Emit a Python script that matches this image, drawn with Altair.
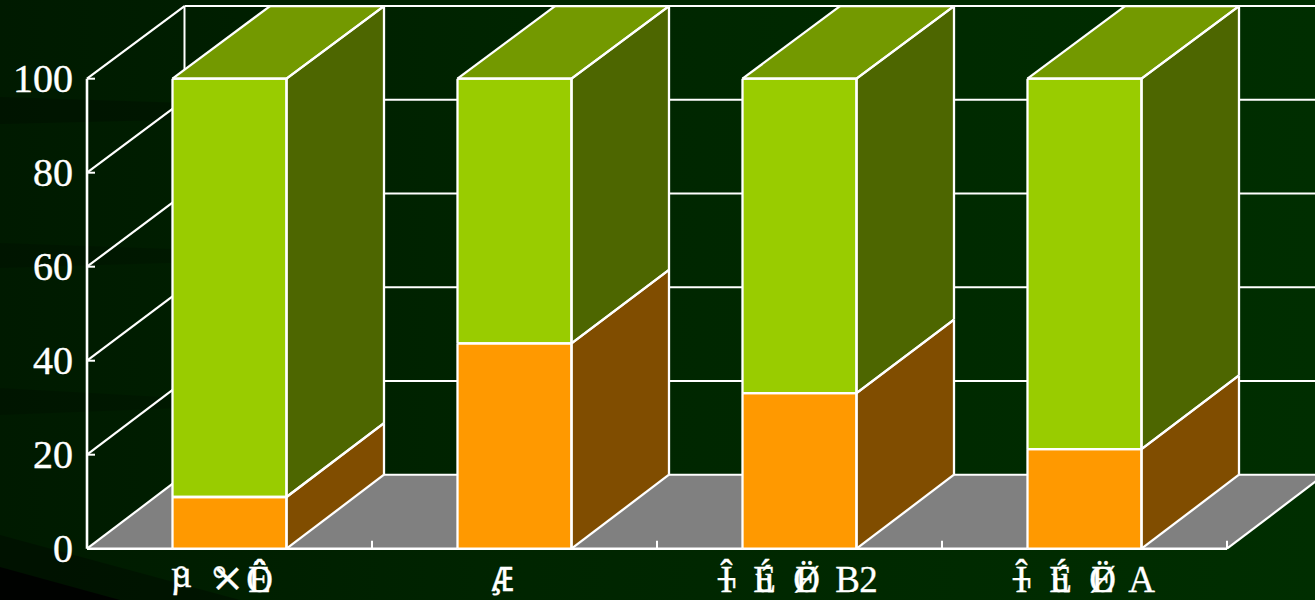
import altair as alt
import pandas as pd

# Share of each nutrient category (stacked to 100)
categories = ["µ° °× ÖÊ", "¸Æ", "Î¬ÉúËØ B2", "Î¬ÉúËØ A"]
lower_share = [11, 43.7, 33.1, 21.2]
upper_share = [89, 56.3, 66.9, 78.8]
y_ticks = [0, 20, 40, 60, 80, 100]

# Label glyphs: two byte-characters share one cell, so they overprint
label_glyphs = [
    ["°", "°", "Ö", "Ê"],
    [],
    ["Î", "¬", "É", "ú", "Ë", "Ø", "B", "2"],
    ["Î", "¬", "É", "ú", "Ë", "Ø", "A"],
]
label_offsets = [
    [-48, -10, 30, 30],
    [],
    [-73, -73, -35, -35, 7, 7, 48, 69],
    [-63, -63, -24, -24, 18, 18, 57],
]
# Glyphs with a descender sit a little higher in the row
raised_glyphs = [("µ", 0, -48), ("¸", 1, -18)]
ash_glyph = [("Æ", 1, -12)]
cross_glyph = [("×", 0, -2)]

# Layout constants
W, H = 1315, 600
CELL = 285.0
X0, Y0 = 87.0, 548.7
PER_VALUE = 4.7
BACK_DX = 97.5 / CELL
BACK_DV = 74 / PER_VALUE
BACK_SHRINK = 0.003
BAR_W = 0.4
FLOOR_GREY = "#808080"
TICK_UP = 8 / PER_VALUE
TICK_RIGHT = 8 / CELL

x_scale = alt.Scale(domain=[-X0 / CELL, (W - X0) / CELL], nice=False, zero=False)
y_scale = alt.Scale(domain=[(Y0 - H) / PER_VALUE, Y0 / PER_VALUE], nice=False, zero=False)


def project(u, v, d=0.0):
    """Category position, value and depth (0 front, 1 back) to plot coordinates."""
    return (u + d * BACK_DX, v * (1 - BACK_SHRINK * d) + d * BACK_DV)


def polygon_rows(points, group, fill, opacity=1.0):
    """Convex polygon as area rows: one lower and one upper value for each x."""
    rows = []
    for x in sorted({p[0] for p in points}):
        hits = []
        for (ax, ay), (bx, by) in zip(points, points[1:] + points[:1]):
            if min(ax, bx) <= x <= max(ax, bx):
                if ax == bx:
                    hits += [ay, by]
                else:
                    hits.append(ay + (by - ay) * (x - ax) / (bx - ax))
        rows.append(dict(x=x, y=min(hits), y2=max(hits), group=group, fill=fill, opacity=opacity))
    return rows


def edge(a, b, width=2.0):
    return dict(x=a[0], y=a[1], x2=b[0], y2=b[1], width=width)


def outline(points, width=2.3):
    return [edge(a, b, width) for a, b in zip(points, points[1:] + points[:1])]


def px(x, y):
    return ((x - X0) / CELL, (Y0 - y) / PER_VALUE)


n = len(categories)

# Floor and wall lines
floor = [project(0, 0), project(n, 0), project(n, 0, 1), project(0, 0, 1)]
floor_rows = polygon_rows(floor, "floor", FLOOR_GREY)

frame = [
    edge(project(0, 0), project(n, 0), 2.6),
    edge(project(0, 0), project(0, 0, 1), 2.2),
    edge(project(n, 0), project(n, 0, 1), 2.2),
    edge(project(0, 0, 1), project(n, 0, 1), 2),
    edge(project(0, 0), project(0, y_ticks[-1]), 2.6),
    edge(project(0, 0, 1), project(0, y_ticks[-1], 1), 2),
]
for t in y_ticks[1:]:
    frame.append(edge(project(0, t), project(0, t, 1), 2.2))
    frame.append(edge(project(0, t, 1), project(n, t, 1), 2))
    frame.append(edge(project(0, t), project(TICK_RIGHT, t), 2))
for i in range(1, n + 1):
    frame.append(edge(project(i, 0), project(i, TICK_UP), 2))

# Stacked bars: front, top and side faces per segment
face_rows, bar_edges = [], []
segments = [(lower_share, "#FF9900", "#804D00", "#BF7300"), (upper_share, "#99CC00", "#4D6600", "#739900")]
for i in range(n):
    left, right = i + 0.5 - BAR_W / 2, i + 0.5 + BAR_W / 2
    base = 0.0
    for s, (values, front, side, top) in enumerate(segments):
        head = base + values[i]
        parts = [
            ([project(left, base), project(right, base), project(right, head), project(left, head)], front),
            ([project(right, base), project(right, base, 1), project(right, head, 1), project(right, head)], side),
        ]
        if s == len(segments) - 1:
            parts.append(([project(left, head), project(right, head), project(right, head, 1), project(left, head, 1)], top))
        for k, (poly, fill) in enumerate(parts):
            face_rows += polygon_rows(poly, f"{i}-{s}-{k}", fill)
            bar_edges += outline(poly)
        base = head

# Backdrop: soft dark bands on the left and a dark wedge in the lower-left corner
backdrop = [
    ([px(0, 97), px(250, 105), px(250, 118), px(0, 124)], 0.22),
    ([px(0, 243), px(200, 250), px(200, 262), px(0, 268)], 0.16),
    ([px(0, 388), px(180, 398), px(180, 408), px(0, 415)], 0.16),
    ([px(0, 535), px(240, 600), px(0, 600)], 0.3),
    ([px(0, 567), px(120, 600), px(0, 600)], 0.85),
]
backdrop_rows = []
for j, (poly, alpha) in enumerate(backdrop):
    backdrop_rows += polygon_rows(poly, f"band{j}", "#000000", alpha)

glyph_rows = []
for i, (chars, offs) in enumerate(zip(label_glyphs, label_offsets)):
    for c, o in zip(chars, offs):
        glyph_rows.append(dict(x=i + 0.5 + o / CELL, glyph=c))

tick_rows = [dict(x=0, y=t, label=str(t)) for t in y_ticks]

X = alt.X("x:Q", scale=x_scale, axis=None)
Y = alt.Y("y:Q", scale=y_scale, axis=None)


def areas(rows):
    return alt.Chart(pd.DataFrame(rows)).mark_area(interpolate="linear", strokeWidth=0).encode(
        x=X,
        y=Y,
        y2="y2:Q",
        detail="group:N",
        color=alt.Color("fill:N", scale=None),
        opacity=alt.Opacity("opacity:Q", scale=None),
    )


def lines(rows):
    return alt.Chart(pd.DataFrame(rows)).mark_rule(color="white").encode(
        x=X,
        y=Y,
        x2="x2:Q",
        y2="y2:Q",
        strokeWidth=alt.StrokeWidth("width:Q", scale=None),
    )


def glyph_layer(entries, baseline_y, font, size):
    rows = [dict(x=i + 0.5 + o / CELL, glyph=g) for g, i, o in entries]
    return alt.Chart(pd.DataFrame(rows)).mark_text(
        font=font, fontSize=size, color="white", stroke="white", strokeWidth=0.3,
        align="center", baseline="alphabetic"
    ).encode(x=X, y=alt.value(baseline_y), text="glyph:N")


background = alt.Chart(pd.DataFrame([dict(x=x_scale.domain[0], x2=x_scale.domain[1], y=y_scale.domain[0], y2=y_scale.domain[1])])).mark_rect(
    color=alt.Gradient(
        gradient="linear",
        x1=0, y1=0, x2=1, y2=0,
        stops=[
            alt.GradientStop(color="#001A00", offset=0),
            alt.GradientStop(color="#002500", offset=0.4),
            alt.GradientStop(color="#002E00", offset=1),
        ],
    )
).encode(x=X, x2="x2:Q", y=Y, y2="y2:Q")

floor_layer = areas(floor_rows)
backdrop_layer = areas(backdrop_rows)
frame_layer = lines(frame)
faces_layer = areas(face_rows)
edges_layer = lines(bar_edges)

tick_labels = alt.Chart(pd.DataFrame(tick_rows)).mark_text(
    font="Liberation Serif", fontSize=40, color="white", stroke="white", strokeWidth=0.4,
    align="right", baseline="middle", dx=-14, dy=1
).encode(x=X, y=Y, text="label:N")

cat_labels = alt.Chart(pd.DataFrame(glyph_rows)).mark_text(
    font="Liberation Serif", fontSize=37, color="white", stroke="white", strokeWidth=0.3,
    align="center", baseline="alphabetic"
).encode(x=X, y=alt.value(592), text="glyph:N")

raised_labels = glyph_layer(raised_glyphs, 587, "Liberation Serif", 37)
ash_label = glyph_layer(ash_glyph, 591, "Liberation Mono", 36)
cross_label = glyph_layer(cross_glyph, 591, "DejaVu Serif", 40)

chart = alt.layer(
    background, backdrop_layer, floor_layer, frame_layer, faces_layer, edges_layer,
    tick_labels, cat_labels, raised_labels, ash_label, cross_label
).properties(
    width=W, height=H, padding=0, autosize=alt.AutoSizeParams(type="none")
).configure_view(stroke=None)

chart.save("out.html", embed_options={"renderer": "svg", "actions": False})
